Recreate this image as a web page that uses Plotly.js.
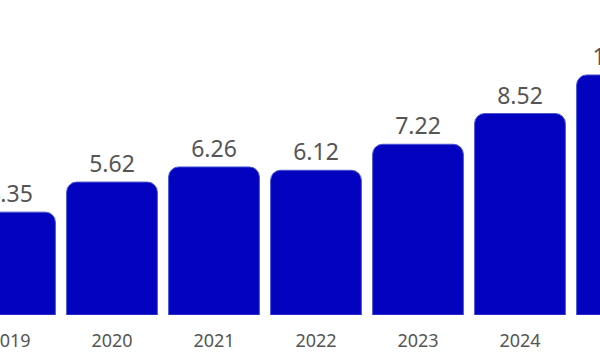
<!DOCTYPE html>
<html>
<head>
<meta charset="utf-8">
<script src="https://cdn.plot.ly/plotly-3.0.1.min.js"></script>
<style>
html,body{margin:0;padding:0;background:#fff;overflow:hidden;width:600px;height:360px;position:relative;}
#chart{position:absolute;left:-41.5px;top:0;width:714px;height:360px;}
</style>
</head>
<body>
<div id="chart"></div>
<script>
const years = ['2019', '2020', '2021', '2022', '2023', '2024', '2025'];
const values = [4.35, 5.62, 6.26, 6.12, 7.22, 8.52, 10.15];
const valueLabels = ['4.35', '5.62', '6.26', '6.12', '7.22', '8.52', '10.15'];

const trace = {
  type: 'bar',
  x: years,
  y: values,
  text: valueLabels,
  textposition: 'outside',
  texttemplate: '%{text}',
  cliponaxis: false,
  textfont: {family: 'Noto Sans, sans-serif', size: 23, color: '#555555'},
  marker: {color: '#0303bf', cornerradius: 10, line: {color: '#4a55d0', width: 1}},
  hoverinfo: 'none'
};

const layout = {
  width: 714, height: 360,
  margin: {l: 0, r: 0, t: 0, b: 45},
  paper_bgcolor: '#ffffff', plot_bgcolor: '#ffffff',
  bargap: 0.11,
  showlegend: false,
  xaxis: {
    type: 'category',
    range: [-0.5, 6.5],
    showgrid: false, zeroline: false, showline: false,
    ticks: 'outside', ticklen: 9, tickcolor: 'rgba(0,0,0,0)',
    tickfont: {family: 'Noto Sans, sans-serif', size: 18, color: '#555555'}
  },
  yaxis: {
    range: [0, 13.32],
    showgrid: false, zeroline: false, showline: false,
    showticklabels: false, ticks: ''
  }
};

Plotly.newPlot('chart', [trace], layout, {displayModeBar: false, staticPlot: true});
</script>
</body>
</html>
